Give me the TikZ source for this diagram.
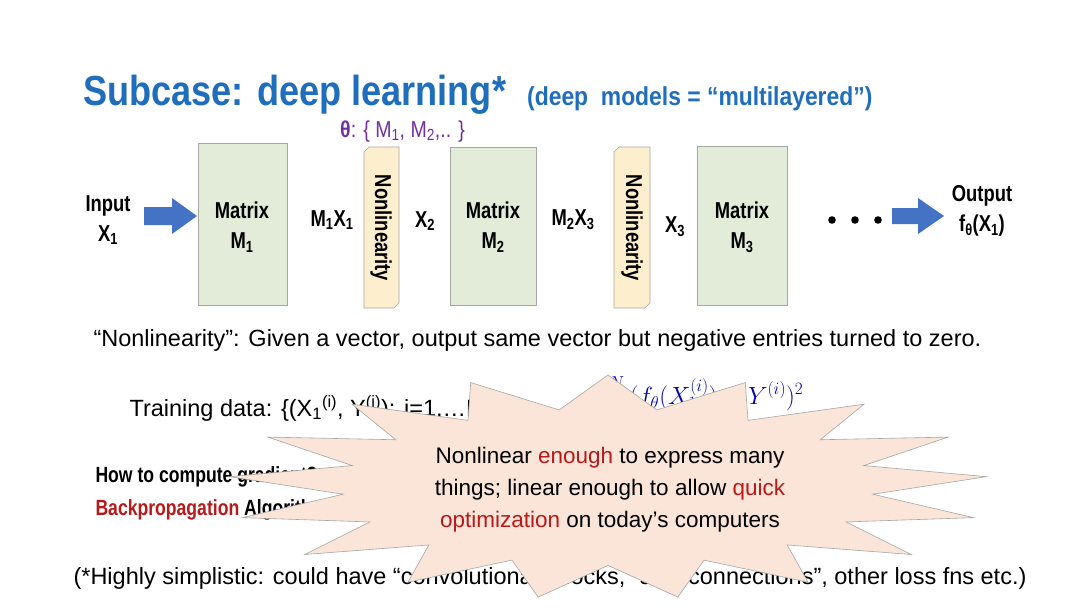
\documentclass[tikz,border=0pt]{standalone}
\usepackage{fontspec}
\setmainfont{Liberation Sans}
\usetikzlibrary{shapes.arrows}
\definecolor{ttl}{RGB}{31,110,190}
\definecolor{arr}{RGB}{68,114,196}
\definecolor{mgreen}{RGB}{226,236,216}
\definecolor{nyel}{RGB}{253,238,205}
\definecolor{peach}{RGB}{250,229,216}
\definecolor{dred}{RGB}{185,25,25}
\definecolor{purp}{RGB}{112,48,160}
\newcommand{\cnd}[1]{\scalebox{0.8}[1]{#1}}
\begin{document}
\begin{tikzpicture}[x=1pt,y=-1pt,
  lbl/.style={font=\fontsize{23}{26}\selectfont\bfseries},
  body/.style={font=\fontsize{23.5}{26}\selectfont, anchor=west},
  mat/.style={draw=gray!70, fill=mgreen, line width=0.6pt},
  nl/.style={draw=gray!70, fill=nyel, line width=0.6pt},
  declare function={rr(\t)=(mod(\t,2)==0)?1:0.7;}]
\useasboundingbox (0,0) rectangle (1080,608);
\fill[white] (0,0) rectangle (1080,608);
% title
\node[anchor=base west, text=ttl, inner sep=0] (title) at (83,105) {\fontsize{42}{46}\selectfont\bfseries\scalebox{0.86}[1]{Subcase: deep learning*}};
\node[anchor=base west, text=ttl, inner sep=0] (sub) at (527,105) {\fontsize{26}{30}\selectfont\bfseries\scalebox{0.88}[1]{(deep\ \ models = “multilayered”)}};
\node[anchor=base west, text=purp, inner sep=0] (theta) at (340,137) {\fontsize{23}{26}\selectfont\scalebox{0.85}[1]{\textbf{θ}: \{ M\textsubscript{1}, M\textsubscript{2},.. \}}};
% boxes
\draw[mat] (198,143) rectangle (287,305);
\draw[mat] (450,147) rectangle (536,305);
\draw[mat] (697,146) rectangle (787,305);
\draw[nl] (364,152) -- (369,147) -- (399,147) -- (399,303) -- (394,308) -- (364,308) -- cycle;
\draw[nl] (614,152) -- (619,147) -- (650,147) -- (650,303) -- (645,308) -- (614,308) -- cycle;
\node[lbl, rotate=-90] (n1) at (381,228) {\cnd{Nonlinearity}};
\node[lbl, rotate=-90] (n2) at (632,228) {\cnd{Nonlinearity}};
\node[lbl, align=center] (m1) at (242,227) {\cnd{Matrix}\\[4pt]\cnd{M\textsubscript{1}}};
\node[lbl, align=center] (m2) at (493,227) {\cnd{Matrix}\\[4pt]\cnd{M\textsubscript{2}}};
\node[lbl, align=center] (m3) at (742,227) {\cnd{Matrix}\\[4pt]\cnd{M\textsubscript{3}}};
\node[lbl, align=center] (in) at (108,220) {\cnd{Input}\\[4pt]\cnd{X\textsubscript{1}}};
\node[lbl, align=center] (out) at (982,211) {\cnd{Output}\\[4pt]\cnd{f\textsubscript{θ}(X\textsubscript{1})}};
\node[lbl] (a1) at (332,220) {\cnd{M\textsubscript{1}X\textsubscript{1}}};
\node[lbl] (a2) at (425,221) {\cnd{X\textsubscript{2}}};
\node[lbl] (a3) at (573,220) {\cnd{M\textsubscript{2}X\textsubscript{3}}};
\node[lbl] (a4) at (675,227) {\cnd{X\textsubscript{3}}};
\node (dots) at (855,220) {};
\foreach \x in {832,855,878} \fill (\x,220) circle (3.8);
% arrows
\fill[arr] (144,207) -- (172,207) -- (172,198) -- (197,216) -- (172,234) -- (172,225) -- (144,225) -- cycle;
\fill[arr] (892,208) -- (918,208) -- (918,198) -- (944,216) -- (918,234) -- (918,224) -- (892,224) -- cycle;
% body
\node[body] (t1) at (90,340) {“Nonlinearity”: Given a vector, output same vector but negative entries turned to zero.};
\node[body] (t2) at (126,408) {Training data: \{(X\textsubscript{1}\textsuperscript{(i)}, Y\textsuperscript{(i)}): i=1,…N\}};
\node[anchor=west, text=blue!70!black, font=\fontsize{23}{26}\selectfont] (f) at (600,398) {$\displaystyle\sum_{i=1}^{N}(f_\theta(X_1^{(i)})-Y^{(i)})^2$};
\node[body, font=\fontsize{22}{26}\selectfont\bfseries] (t3) at (92,477) {\cnd{How to compute gradient?}};
\node[body, font=\fontsize{22}{26}\selectfont\bfseries] (t4) at (92,510) {\cnd{\textcolor{dred}{Backpropagation} Algorithm}};
\node[body] (t5) at (70,578) {(*Highly simplistic: could have “convolutional” blocks, “skip connections”, other loss fns etc.)};
% burst
\draw[fill=peach, draw=gray!70, line width=0.6pt] plot[variable=\t, samples at={0,...,33}] ({608+380*rr(\t)*cos(90+\t*360/34)}, {487-112*rr(\t)*sin(90+\t*360/34)}) -- cycle;
\node[align=center, font=\fontsize{22.5}{32}\selectfont] (bt) at (610,490) {Nonlinear \textcolor{dred}{enough} to express many\\things; linear enough to allow \textcolor{dred}{quick}\\\textcolor{dred}{optimization} on today’s computers};
\end{tikzpicture}
\end{document}
